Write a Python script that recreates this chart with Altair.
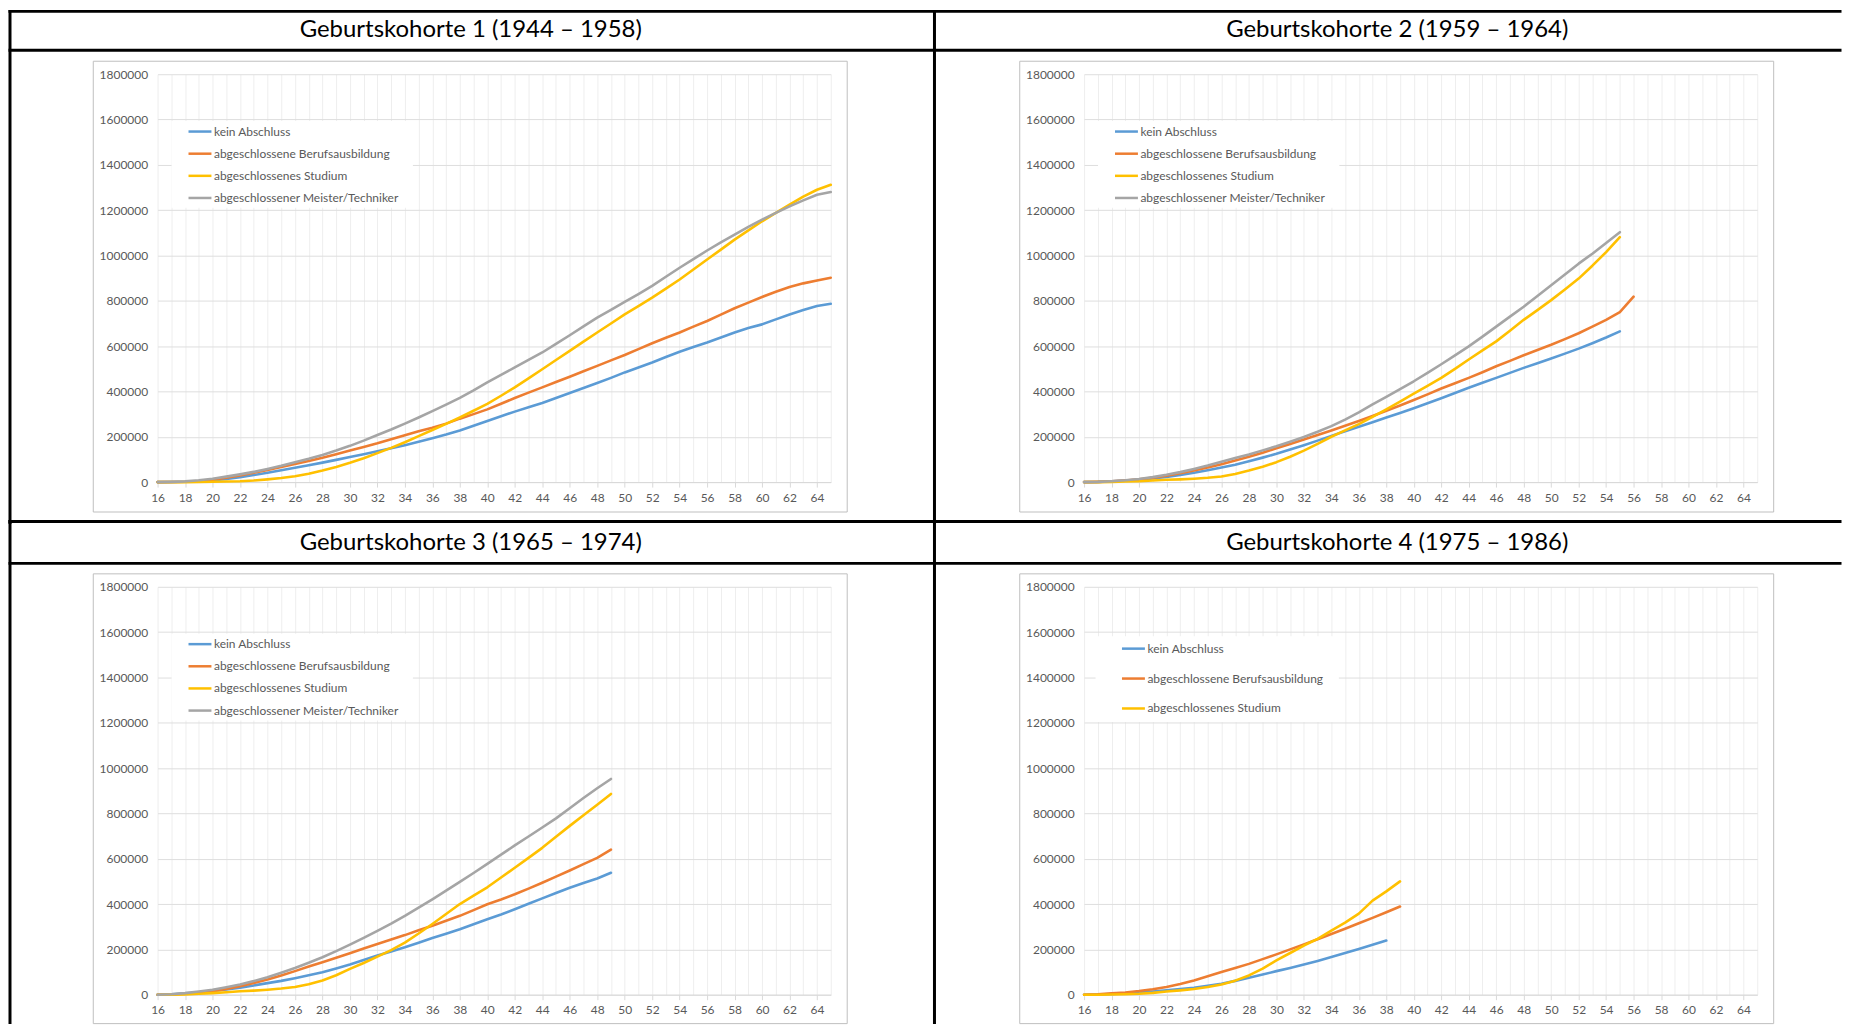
import altair as alt
import pandas as pd

SERIES = ["kein Abschluss", "abgeschlossene Berufsausbildung",
          "abgeschlossenes Studium", "abgeschlossener Meister/Techniker"]
COLORS = ["#5B9BD5", "#ED7D31", "#FFC000", "#A5A5A5"]
TITLES = ["Geburtskohorte 1 (1944 – 1958)", "Geburtskohorte 2 (1959 – 1964)",
          "Geburtskohorte 3 (1965 – 1974)", "Geburtskohorte 4 (1975 – 1986)"]
START_AGE = 16
AGE_MAX = 65
X_LABEL_AGES = [16, 18, 20, 22, 24, 26, 28, 30, 32, 34, 36, 38, 40, 42, 44,
                46, 48, 50, 52, 54, 56, 58, 60, 62, 64]
Y_TICKS = [0, 200000, 400000, 600000, 800000, 1000000, 1200000, 1400000, 1600000, 1800000]

# ---- Kohorte 1 (Alter 16..65)
p1_kein = [0, 500, 1500, 4000, 7000, 14000, 22000, 31000, 41000, 52000,
           63000, 74000, 86000, 98000, 111000, 123000, 136000, 149000, 163000, 178000,
           194000, 210000, 228000, 249000, 270000, 291000, 311000, 330000, 349000, 371000,
           393000, 415000, 437000, 460000, 484000, 506000, 528000, 552000, 575000, 596000,
           616000, 638000, 660000, 680000, 696000, 718000, 740000, 759000, 777000, 787000]
p1_beruf = [0, 500, 1500, 5000, 10000, 19000, 29000, 41000, 54000, 67000,
            80000, 93000, 107000, 123000, 139000, 155000, 171000, 189000, 207000, 224000,
            240000, 258000, 280000, 300000, 321000, 346000, 371000, 395000, 418000, 442000,
            465000, 489000, 513000, 537000, 561000, 587000, 613000, 637000, 660000, 686000,
            711000, 739000, 767000, 792000, 817000, 840000, 861000, 877000, 890000, 902000]
p1_studium = [0, 0, 0, 500, 1500, 2500, 4000, 7000, 12000, 18000,
              26000, 37000, 51000, 67000, 85000, 105000, 128000, 151000, 176000, 203000,
              230000, 257000, 285000, 315000, 345000, 381000, 418000, 458000, 498000, 539000,
              579000, 620000, 660000, 700000, 740000, 777000, 814000, 854000, 894000, 938000,
              982000, 1026000, 1070000, 1111000, 1151000, 1188000, 1224000, 1260000, 1290000, 1312000]
p1_meister = [0, 1000, 3000, 8000, 15000, 24000, 34000, 45000, 58000, 72000,
              88000, 103000, 120000, 139000, 160000, 183000, 208000, 232000, 258000, 285000,
              313000, 342000, 372000, 405000, 440000, 473000, 506000, 539000, 572000, 610000,
              648000, 687000, 726000, 760000, 795000, 830000, 866000, 906000, 946000, 984000,
              1022000, 1058000, 1092000, 1126000, 1158000, 1188000, 1217000, 1243000, 1268000, 1280000]

# ---- Kohorte 2 (Alter 16..55, Berufsausbildung bis 56)
p2_kein = [0, 1000, 4000, 7000, 10000, 16000, 23000, 31000, 41000, 52000,
           64000, 77000, 92000, 108000, 125000, 144000, 163000, 183000, 204000, 224000,
           244000, 264000, 285000, 305000, 326000, 348000, 370000, 393000, 416000, 438000,
           460000, 482000, 504000, 524000, 545000, 567000, 589000, 613000, 638000, 665000]
p2_beruf = [0, 1000, 3000, 7000, 12000, 19000, 28000, 39000, 51000, 64000,
            79000, 95000, 112000, 130000, 149000, 168000, 188000, 208000, 228000, 249000,
            270000, 292000, 315000, 338000, 362000, 387000, 413000, 436000, 460000, 485000,
            511000, 535000, 560000, 583000, 606000, 631000, 657000, 686000, 716000, 750000,
            818000]
p2_studium = [0, 0, 1000, 2500, 4000, 7000, 10000, 12000, 15000, 19000,
              25000, 36000, 51000, 68000, 88000, 112000, 139000, 169000, 200000, 228000,
              256000, 288000, 321000, 355000, 390000, 425000, 460000, 500000, 541000, 581000,
              621000, 668000, 716000, 759000, 803000, 850000, 898000, 955000, 1015000, 1081000]
p2_meister = [0, 1000, 4000, 8000, 14000, 22000, 32000, 44000, 58000, 73000,
              90000, 106000, 122000, 140000, 158000, 178000, 199000, 222000, 247000, 276000,
              308000, 343000, 376000, 410000, 445000, 482000, 520000, 559000, 599000, 642000,
              686000, 730000, 774000, 821000, 869000, 916000, 964000, 1008000, 1055000, 1103000]

# ---- Kohorte 3 (Alter 16..49)
p3_kein = [0, 2000, 6000, 10000, 16000, 23000, 31000, 41000, 51000, 61000,
           73000, 86000, 99000, 116000, 133000, 153000, 173000, 191000, 209000, 229000,
           250000, 269000, 289000, 311000, 333000, 354000, 377000, 401000, 425000, 449000,
           472000, 493000, 513000, 538000]
p3_beruf = [0, 1000, 4000, 9000, 15000, 25000, 37000, 52000, 67000, 85000,
            104000, 124000, 143000, 163000, 183000, 204000, 224000, 244000, 263000, 284000,
            304000, 326000, 348000, 373000, 399000, 420000, 443000, 468000, 494000, 521000,
            548000, 576000, 604000, 640000]
p3_studium = [0, 500, 1500, 4000, 7000, 11000, 15000, 18000, 22000, 27000,
              34000, 46000, 63000, 86000, 114000, 140000, 168000, 197000, 230000, 270000,
              312000, 356000, 400000, 437000, 474000, 517000, 560000, 604000, 648000, 697000,
              745000, 792000, 838000, 886000]
p3_meister = [0, 2000, 7000, 14000, 22000, 33000, 45000, 60000, 77000, 97000,
              118000, 141000, 165000, 192000, 221000, 251000, 282000, 314000, 348000, 384000,
              421000, 459000, 498000, 537000, 577000, 618000, 659000, 698000, 738000, 778000,
              823000, 868000, 911000, 952000]

# ---- Kohorte 4 (Alter 16..38 / 16..39)
p4_kein = [0, 1000, 3000, 6000, 9000, 14000, 19000, 25000, 31000, 39000,
           48000, 61000, 75000, 89000, 104000, 118000, 133000, 149000, 166000, 184000,
           202000, 220000, 239000]
p4_beruf = [0, 2000, 6000, 10000, 16000, 24000, 34000, 47000, 63000, 81000,
            100000, 118000, 136000, 157000, 178000, 200000, 222000, 245000, 268000, 291000,
            315000, 339000, 364000, 389000]
p4_studium = [0, 0, 1000, 2000, 4000, 8000, 14000, 19000, 25000, 34000,
              45000, 62000, 85000, 115000, 151000, 184000, 217000, 246000, 283000, 318000,
              358000, 415000, 456000, 500000]

PANEL_SERIES = [
    [p1_kein, p1_beruf, p1_studium, p1_meister],
    [p2_kein, p2_beruf, p2_studium, p2_meister],
    [p3_kein, p3_beruf, p3_studium, p3_meister],
    [p4_kein, p4_beruf, p4_studium],
]

W, H = 675, 409
GRID_AGES = list(range(START_AGE, AGE_MAX + 1))
DUMMY = pd.DataFrame({"k": [0]})
FONT = "Lato"
LABEL_COLOR = "#595959"


def to_long(lists):
    rows = []
    for name, vals in zip(SERIES, lists):
        for i, v in enumerate(vals):
            rows.append({"Alter": START_AGE + i, "Wert": v, "Gruppe": name})
    return pd.DataFrame(rows)


def block(x1, x2, y1, y2, color):
    return alt.Chart(DUMMY).mark_rect(color=color).encode(
        x=alt.value(x1), x2=alt.value(x2), y=alt.value(y1), y2=alt.value(y2))


def frame(x1, x2, y1, y2):
    return alt.Chart(DUMMY).mark_rect(fill="transparent", stroke="#bfbfbf", strokeWidth=1).encode(
        x=alt.value(x1), x2=alt.value(x2), y=alt.value(y1), y2=alt.value(y2))


def panel(idx):
    col, row = idx % 2, idx // 2
    lists = PANEL_SERIES[idx]
    names = SERIES[:len(lists)]
    cols = COLORS[:len(lists)]
    df = to_long(lists)

    if col == 0:
        lx1, lx2, hx2 = -149.5, -146.5, 778.5
    else:
        lx1, lx2, hx2 = -151.5, -148.5, 759.5
    if row == 0:
        ty1, ty2, hy1, hy2, vy2, by2 = -64.5, -61.5, -25.5, -22.5, 451, 439
    else:
        ty1, ty2, hy1, hy2, vy2, by2 = -67, -64, -25, -22, 438.5, 438

    if idx < 3:
        leg = dict(legendX=29.5, legendY=44.5, rowPadding=3.2)
        bg = (14, 256, 47, 134)
    else:
        leg = dict(legendX=36.5, legendY=49, rowPadding=11)
        bg = (11.5, 255.5, 49.5, 135.5)

    deco = [
        frame(-64.5, 691.5, -13, by2),
        block(lx1, lx2, ty1, vy2, "black"),
        block(lx1, hx2, ty1, ty2, "black"),
        block(lx1, hx2, hy1, hy2, "black"),
        alt.Chart(DUMMY).mark_text(font=FONT, fontSize=24, color="black",
                                   align="center", baseline="middle").encode(
            x=alt.value(314), y=alt.value(-44), text=alt.value(TITLES[idx])),
        block(bg[0], bg[1], bg[2], bg[3], "white"),
    ]

    x_axis = alt.Axis(
        values=GRID_AGES, title=None, grid=True, gridColor="#eeeeee", gridWidth=1,
        domain=True, domainColor="#d9d9d9", domainWidth=1,
        ticks=True, tickColor="#d9d9d9", tickSize=5, tickWidth=1,
        tickOpacity={"condition": {"test": "datum.value % 2 === 0 && datum.value < 65", "value": 1},
                     "value": 0},
        labelExpr="(datum.value % 2 === 0 && datum.value < 65) ? datum.label : ''",
        labelFont=FONT, labelFontSize=12, labelColor=LABEL_COLOR, labelPadding=5,
        labelFlush=False, labelOverlap=False)
    y_axis = alt.Axis(
        values=Y_TICKS, format="d", title=None, grid=True, gridColor="#dedede", gridWidth=1,
        domain=False, ticks=False, labelFont=FONT, labelFontSize=12, labelColor=LABEL_COLOR,
        labelPadding=10, labelFlush=False)

    lines = alt.Chart(df).mark_line(strokeWidth=2.6, strokeCap="round", strokeJoin="round").encode(
        x=alt.X("Alter:Q", scale=alt.Scale(domain=[START_AGE, AGE_MAX], nice=False, zero=False),
                axis=x_axis),
        y=alt.Y("Wert:Q", scale=alt.Scale(domain=[0, 1800000], nice=False), axis=y_axis),
        color=alt.Color("Gruppe:N", scale=alt.Scale(domain=names, range=cols),
                        legend=alt.Legend(orient="none", title=None, direction="vertical",
                                          symbolType="stroke", symbolSize=529, symbolStrokeWidth=2.5,
                                          labelFont=FONT, labelFontSize=12, labelColor=LABEL_COLOR,
                                          labelOffset=1, labelLimit=400, padding=0, **leg)),
    )
    return alt.layer(*deco, lines).properties(width=W, height=H)


row1 = alt.hconcat(panel(0), panel(1), spacing=254, bounds="flush").resolve_scale(
    color="independent", x="independent", y="independent").resolve_legend(color="independent")
row2 = alt.hconcat(panel(2), panel(3), spacing=254, bounds="flush").resolve_scale(
    color="independent", x="independent", y="independent").resolve_legend(color="independent")

chart = alt.vconcat(row1, row2, spacing=514, bounds="flush").resolve_scale(
    color="independent", x="independent", y="independent").resolve_legend(
    color="independent").properties(padding=0, background="white").configure_view(
    strokeWidth=0)

chart.save("out.html", embed_options={"renderer": "svg", "actions": False})
